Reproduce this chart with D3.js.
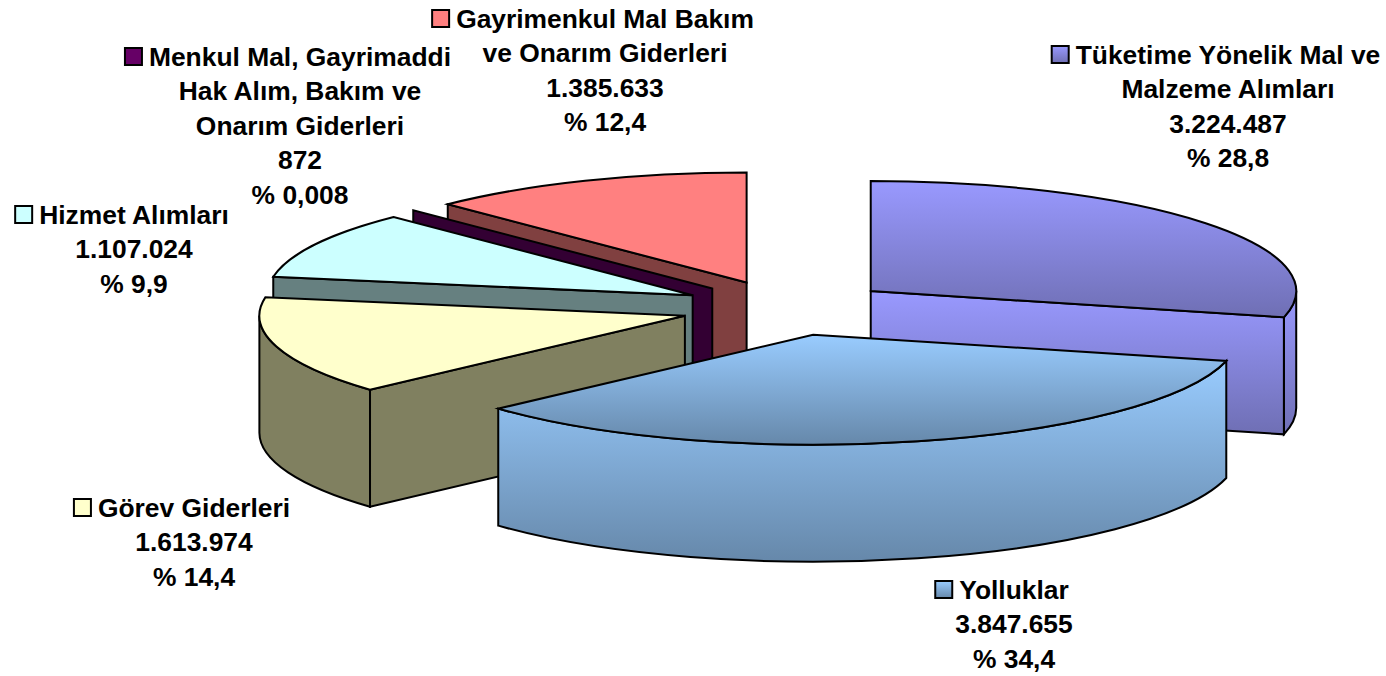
<!DOCTYPE html>
<html><head><meta charset="utf-8">
<script src="https://cdn.jsdelivr.net/npm/d3@7"></script>
<style>html,body{margin:0;padding:0;background:#fff}svg{display:block}</style>
</head><body><div id="chart"></div>
<script>
const categories = ["Tüketime Yönelik Mal ve Malzeme Alımları","Yolluklar","Görev Giderleri","Hizmet Alımları","Menkul Mal, Gayrimaddi Hak Alım, Bakım ve Onarım Giderleri","Gayrimenkul Mal Bakım ve Onarım Giderleri"];
const values = [3224487,3847655,1613974,1107024,872,1385633];
const valueLabels = ["3.224.487","3.847.655","1.613.974","1.107.024","872","1.385.633"];
const percentLabels = ["% 28,8","% 34,4","% 14,4","% 9,9","% 0,008","% 12,4"];
const topColors = ["#9999ff","#99ccff","#ffffcc","#ccffff","#660066","#ff8080"];
const sideColors = ["#9999ff","#99ccff","#808060","#668080","#330033","#804040"];
const gradientEnds = ["#6f6fb4","#6688aa",null,null,null,null];
const labelLines = [["Tüketime Yönelik Mal ve","Malzeme Alımları"],["Yolluklar"],["Görev Giderleri"],["Hizmet Alımları"],["Menkul Mal, Gayrimaddi","Hak Alım, Bakım ve","Onarım Giderleri"],["Gayrimenkul Mal Bakım","ve Onarım Giderleri"]];
const labelCenters = [[1228,64],[1014,599],[194,517],[134,224],[300,66],[605,28]];
const drawOrder = [5,4,3,2,0,1];

const W=1386,H=676,cx=787,cy=308,rx=425.5,ry=110,depth=117,explode=0.25,lineH=34.4,fontSize=26.4;
const svg=d3.select("#chart").append("svg").attr("width",W).attr("height",H);
const defs=svg.append("defs");
gradientEnds.forEach((c,i)=>{ if(!c) return;
  const g=defs.append("linearGradient").attr("id","g"+i).attr("x1",0).attr("y1",0).attr("x2",0).attr("y2",1);
  g.append("stop").attr("offset",0).attr("stop-color",topColors[i]);
  g.append("stop").attr("offset",1).attr("stop-color",c);
});
const arcs=d3.pie().sort(null).value(d=>d)(values);
const X=d3.scaleLinear().domain([-1,1]).range([-rx,rx]);
const Y=d3.scaleLinear().domain([-1,1]).range([-ry,ry]);
const pt=(o,a,dz=0)=>[o[0]+X(Math.sin(a)),o[1]-Y(Math.cos(a))+dz];
const PI=Math.PI;
const stroke=(s,fill)=>s.attr("fill",fill).attr("stroke","#000").attr("stroke-width",2).attr("stroke-linejoin","miter");

drawOrder.forEach(i=>{
  const a=arcs[i],a0=a.startAngle,a1=a.endAngle,mid=(a0+a1)/2;
  const o=[cx+explode*X(Math.sin(mid)),cy-explode*Y(Math.cos(mid))];
  const g=svg.append("g");
  const fill=gradientEnds[i]?`url(#g${i})`:null;
  const side=fill||sideColors[i],top=fill||topColors[i];
  const w0=Math.max(a0,PI/2),w1=Math.min(a1,3*PI/2);
  if(w1>w0){
    const p0=pt(o,w0),p1=pt(o,w1),q0=pt(o,w0,depth),q1=pt(o,w1,depth);
    g.append("path").attr("d",`M${p0}A${rx} ${ry} 0 ${w1-w0>PI?1:0} 1 ${p1}L${q1}A${rx} ${ry} 0 ${w1-w0>PI?1:0} 0 ${q0}Z`).call(stroke,side);
  }
  const face=b=>{const p=pt(o,b),q=pt(o,b,depth);
    g.append("path").attr("d",`M${o}L${p}L${q}L${o[0]},${o[1]+depth}Z`).call(stroke,side);};
  if(a0>PI&&a0<2*PI) face(a0);
  if(a1>0&&a1<PI) face(a1);
  if(a1-a0>0.001){
    g.append("path").attr("d",`M${o}L${pt(o,a0)}A${rx} ${ry} 0 ${a1-a0>PI?1:0} 1 ${pt(o,a1)}Z`).call(stroke,top);
  }
});

const lg=svg.append("g").attr("font-family","'Liberation Sans',Arial,sans-serif").attr("font-weight","bold").attr("font-size",fontSize).attr("fill","#000").attr("text-anchor","middle");
categories.forEach((c,i)=>{
  const [x,y]=labelCenters[i];
  const lines=labelLines[i].concat([valueLabels[i],percentLabels[i]]);
  const t=lg.append("g");
  lines.forEach((l,k)=>t.append("text").attr("x",x).attr("y",y+k*lineH).text(l));
  const w=t.select("text").node().getComputedTextLength();
  const keyFill=gradientEnds[i]?`url(#g${i})`:topColors[i];
  t.append("rect").attr("x",x-w/2-24).attr("y",y-18).attr("width",17).attr("height",17).attr("fill",keyFill).attr("stroke","#000").attr("stroke-width",2);
});
</script></body></html>
